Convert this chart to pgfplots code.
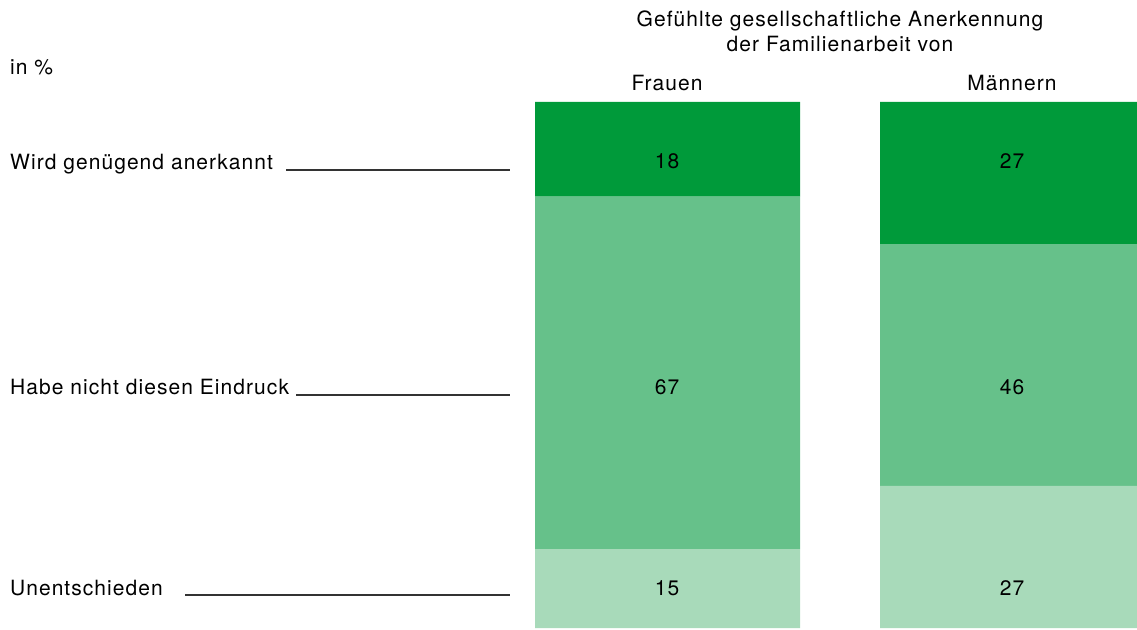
\documentclass[border=0pt]{standalone}
\usepackage{pgfplots}
\pgfplotsset{compat=1.18}
\usepackage{fontspec}
\setmainfont[LetterSpace=5]{TeX Gyre Heros}
\definecolor{dg}{HTML}{009A3A}
\definecolor{mg}{HTML}{66C18A}
\definecolor{lg}{HTML}{A8DABA}
\begin{document}
\fontsize{21}{25}\selectfont
\begin{tikzpicture}[x=1pt,y=1pt]
\path[use as bounding box] (0,0) rectangle (1137,629);
\begin{axis}[at={(0,0)},anchor=south west, scale only axis, width=1137pt, height=629pt,
  xmin=0, xmax=1137, ymin=-0.19, ymax=119.39, hide axis, ybar stacked, bar width=265pt]
\addplot[fill=lg, draw=none] coordinates {(667.5,15) (1012.5,27)};
\addplot[fill=mg, draw=none] coordinates {(667.5,67) (1012.5,46)};
\addplot[fill=dg, draw=none] coordinates {(667.5,18) (1012.5,27)};
\end{axis}
\tikzset{t/.style={inner sep=0pt, anchor=base, font=\fontsize{21}{25}\selectfont}}
\node[t, anchor=base west] at (10,554) {in \%};
\node[t, anchor=base west] at (10,459) {Wird genügend anerkannt};
\node[t, anchor=base west] at (10,234) {Habe nicht diesen Eindruck};
\node[t, anchor=base west] at (10,34) {Unentschieden};
\draw[line width=1.2pt, black!80] (286,459) -- (510,459);
\draw[line width=1.2pt, black!80] (296,234) -- (510,234);
\draw[line width=1.2pt, black!80] (185,34) -- (510,34);
\node[t] at (840,602) {Gefühlte gesellschaftliche Anerkennung};
\node[t] at (840,577) {der Familienarbeit von};
\node[t] at (667,538) {Frauen};
\node[t] at (1012,538) {Männern};
\node[t] at (667,460) {18};
\node[t] at (667,234) {67};
\node[t] at (667,34) {15};
\node[t] at (1012,460) {27};
\node[t] at (1012,234) {46};
\node[t] at (1012,34) {27};
\end{tikzpicture}
\end{document}
